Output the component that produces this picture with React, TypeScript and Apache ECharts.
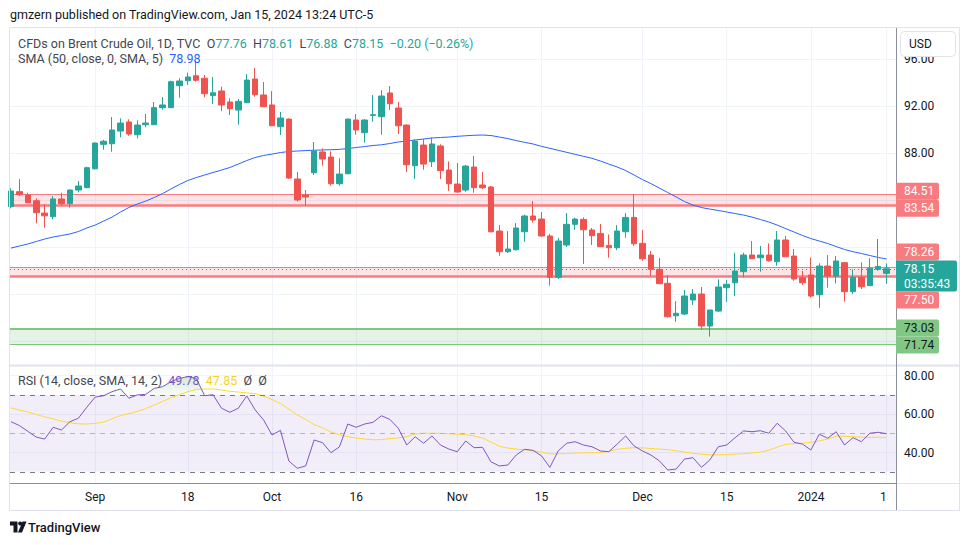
import React, { useEffect, useRef } from "react";
import * as echarts from "echarts";

// ---------- data ----------
const tickIndex = [10, 21, 31, 41, 53, 63, 75, 85, 95, 104];
const tickLabels = ["Sep", "18", "Oct", "16", "Nov", "15", "Dec", "15", "2024", "15"];
const priceTicks = [72, 76, 80, 84, 88, 92, 96];
// ticks whose labels are not hidden behind the price tags
const priceLabelTicks = [88, 92, 96];
const rsiTicks = [40, 60, 80];

const opens = [
  83.43, 84.71, 84.43, 83.94, 82.89, 82.58, 84.09, 83.69, 84.85, 85.05,
  86.66, 88.74, 88.79, 89.87, 90.64, 89.56, 90.41, 90.41, 91.86, 91.86,
  93.73, 94.15, 94.58, 94.36, 92.88, 93.28, 92.34, 91.66, 92.28, 94.3,
  92.94, 92.09, 90.24, 90.89, 85.79, 84.43, 86.32, 88.09, 87.66, 85.39,
  86.24, 90.81, 89.73, 91.2, 91.09, 93.11, 91.83, 90.38, 86.92, 88.68,
  87.26, 88.6, 86.55, 85.36, 84.85, 86.81, 85.28, 85.11, 81.36, 79.6,
  79.77, 81.3, 82.64, 82.38, 80.94, 77.42, 80.17, 81.93, 82.35, 81.45,
  81.16, 80.14, 79.94, 81.3, 82.52, 80.31, 79.32, 78.1, 76.91, 74.15,
  74.3, 75.49, 76.0, 73.28, 74.55, 76.54, 76.96, 77.9, 79.32, 79.09,
  79.32, 78.75, 80.6, 79.23, 77.39, 77.62, 75.94, 78.38, 77.53, 78.67,
  76.2, 77.42, 76.71, 78.1, 77.76,
];
const highs = [
  85.0, 85.79, 84.62, 84.14, 83.66, 84.34, 84.62, 84.9, 85.62, 86.85,
  88.9, 89.13, 91.06, 90.95, 90.87, 90.78, 91.32, 92.34, 92.77, 94.15,
  94.36, 94.83, 95.83, 94.64, 94.47, 93.65, 92.65, 92.6, 94.72, 95.23,
  94.04, 93.28, 91.49, 90.95, 86.38, 84.85, 88.94, 88.4, 88.14, 87.55,
  90.92, 91.32, 90.89, 92.94, 93.36, 93.7, 92.34, 90.44, 89.16, 89.19,
  89.34, 88.74, 87.29, 87.15, 86.98, 87.74, 86.38, 85.19, 81.87, 81.36,
  82.04, 82.75, 83.91, 82.98, 81.11, 80.77, 82.89, 82.49, 82.52, 81.62,
  81.96, 81.07, 81.87, 82.89, 84.49, 81.45, 79.66, 79.06, 77.62, 75.4,
  76.34, 76.43, 76.6, 74.66, 77.25, 77.19, 79.51, 79.51, 80.51, 80.09,
  80.31, 81.36, 80.94, 79.83, 77.96, 79.09, 78.61, 79.32, 79.23, 78.7,
  78.1, 78.7, 79.04, 80.68, 78.61,
];
const lows = [
  83.3, 84.34, 83.75, 82.02, 81.64, 82.36, 83.51, 83.35, 84.66, 85.0,
  86.6, 88.28, 88.11, 89.34, 89.47, 89.25, 90.19, 90.38, 91.69, 91.85,
  92.71, 93.79, 94.07, 92.74, 92.17, 91.57, 91.23, 90.41, 92.25, 92.79,
  91.9, 90.3, 89.53, 85.79, 83.86, 83.51, 86.13, 86.92, 85.22, 85.22,
  86.2, 89.56, 88.88, 90.67, 89.56, 91.66, 89.62, 86.38, 85.79, 86.58,
  86.81, 85.79, 84.77, 84.62, 84.71, 84.62, 84.94, 81.25, 79.26, 79.49,
  79.7, 80.45, 82.07, 80.88, 76.71, 77.28, 80.0, 81.47, 78.55, 80.17,
  80.0, 79.09, 79.74, 80.79, 80.09, 78.83, 77.53, 76.85, 74.0, 73.64,
  74.21, 75.06, 72.94, 72.37, 74.47, 75.32, 75.83, 77.42, 78.98, 77.9,
  78.75, 78.41, 79.15, 77.13, 76.77, 75.69, 74.83, 76.54, 76.91, 75.35,
  76.0, 76.43, 76.68, 77.98, 76.88,
];
const closes = [
  84.77, 84.45, 83.77, 82.92, 82.66, 84.09, 83.69, 84.85, 85.19, 86.75,
  88.85, 89.0, 89.96, 90.55, 89.62, 90.38, 90.55, 91.86, 92.09, 94.07,
  94.13, 94.47, 94.19, 93.05, 93.13, 92.09, 91.77, 92.4, 94.21, 92.96,
  91.94, 90.32, 90.98, 85.87, 84.0, 84.26, 88.17, 87.49, 85.39, 86.21,
  90.89, 89.96, 90.81, 91.26, 92.85, 92.2, 90.32, 87.0, 89.02, 87.06,
  88.77, 86.5, 85.39, 84.68, 86.89, 85.05, 85.05, 81.3, 79.6, 79.83,
  81.62, 82.64, 82.3, 80.94, 77.42, 80.51, 81.93, 82.38, 81.47, 80.96,
  80.03, 79.94, 81.36, 82.52, 80.28, 79.0, 78.1, 76.88, 74.07, 74.36,
  75.83, 76.0, 73.28, 74.64, 76.6, 76.83, 77.96, 79.32, 79.0, 79.32,
  78.83, 80.6, 79.17, 77.28, 76.96, 75.83, 78.38, 77.53, 78.81, 76.2,
  77.42, 76.62, 78.19, 78.35, 78.15,
];
const sma50 = [
  79.91, 80.09, 80.26, 80.47, 80.68, 80.85, 80.98, 81.11, 81.32, 81.62,
  81.87, 82.21, 82.55, 82.98, 83.36, 83.66, 83.91, 84.21, 84.55, 84.94,
  85.32, 85.66, 85.91, 86.13, 86.34, 86.55, 86.77, 87.06, 87.36, 87.62,
  87.79, 87.91, 88.04, 88.13, 88.17, 88.21, 88.24, 88.26, 88.28, 88.31,
  88.38, 88.47, 88.55, 88.64, 88.7, 88.81, 88.94, 89.02, 89.11, 89.19,
  89.28, 89.32, 89.36, 89.42, 89.47, 89.51, 89.53, 89.49, 89.36, 89.23,
  89.06, 88.91, 88.77, 88.57, 88.4, 88.23, 88.06, 87.89, 87.72, 87.55,
  87.32, 87.06, 86.81, 86.51, 86.13, 85.74, 85.4, 85.02, 84.64, 84.26,
  83.87, 83.57, 83.36, 83.23, 83.11, 82.98, 82.85, 82.72, 82.55, 82.34,
  82.13, 81.87, 81.57, 81.28, 80.98, 80.72, 80.51, 80.3, 80.04, 79.79,
  79.6, 79.45, 79.28, 79.11, 78.98,
];
const rsi = [
  56.0, 54.0, 51.0, 48.0, 47.0, 53.1, 51.7, 56.0, 57.8, 63.5,
  68.8, 69.5, 71.6, 73.0, 68.2, 69.9, 70.2, 73.3, 74.2, 76.8,
  78.5, 79.4, 78.5, 69.5, 70.0, 63.0, 60.9, 63.0, 69.4, 62.1,
  56.9, 49.1, 51.5, 35.6, 31.8, 33.0, 46.5, 45.1, 39.9, 42.9,
  54.8, 53.1, 54.8, 55.7, 59.1, 57.2, 52.6, 43.9, 48.2, 44.8,
  48.6, 43.9, 41.8, 40.4, 46.0, 42.5, 42.7, 35.2, 33.0, 33.5,
  38.7, 41.7, 41.1, 38.3, 32.3, 40.9, 44.8, 45.6, 43.9, 43.0,
  40.8, 40.4, 44.4, 48.6, 43.4, 40.8, 38.7, 35.7, 30.9, 31.4,
  36.6, 37.3, 32.3, 36.1, 43.0, 43.9, 47.7, 51.2, 50.8, 51.3,
  50.0, 55.2, 51.2, 45.3, 44.4, 41.3, 49.5, 47.4, 50.8, 43.9,
  47.7, 45.6, 50.0, 50.5, 49.78,
];
const rsiSma = [
  63.2, 62.0, 61.0, 59.8, 58.5, 57.5, 56.3, 55.5, 54.9, 54.8,
  55.1, 55.8, 57.5, 59.2, 60.2, 61.3, 62.8, 64.6, 66.5, 68.4,
  70.1, 71.6, 72.8, 73.0, 73.0, 72.5, 71.8, 71.4, 71.0, 70.6,
  69.3, 67.5, 65.5, 62.5, 59.5, 57.2, 54.5, 52.8, 50.6, 49.3,
  48.2, 47.5, 47.0, 46.6, 46.7, 47.2, 47.6, 48.2, 49.6, 50.0,
  50.0, 49.9, 49.7, 49.5, 49.3, 48.6, 47.5, 45.5, 43.2, 42.3,
  41.8, 41.4, 41.0, 40.2, 39.3, 39.3, 39.5, 39.7, 39.8, 39.9,
  40.0, 40.6, 41.6, 42.2, 42.5, 42.4, 42.1, 41.8, 41.5, 40.9,
  40.2, 39.6, 39.1, 38.8, 38.8, 39.0, 39.2, 39.4, 39.8, 40.2,
  41.2, 42.8, 44.2, 44.6, 44.8, 45.3, 46.0, 47.0, 48.5, 48.4,
  48.2, 48.0, 47.9, 47.9, 47.85,
];
const zoneUpper = [83.54, 84.51];
const zoneMiddle = [77.5, 78.26];
const zoneLower = [71.74, 73.03];
const countdown = "03:35:43";

// ---------- styling ----------
const UP = "#26a69a";
const DOWN = "#ef5350";
const ZRED = "#f77c80";
const ZGREEN = "#81c784";
const GRIDC = "#f0f3fa";
const TXT = "#131722";
const FONT = "Roboto, 'Noto Sans', sans-serif";

function buildOption() {
  const N = closes.length;
  const idx = Array.from({ length: N }, (_, i) => i);
  const candleData = idx.map((i) => [i, opens[i], closes[i], lows[i], highs[i]]);
  const smaData = idx.map((i) => [i, sma50[i]]);
  const rsiData = idx.map((i) => [i, rsi[i]]);
  const rsiSmaData = idx.map((i) => [i, rsiSma[i]]);
  const obData = idx.map((i) => [i, Math.max(rsi[i], 70)]);

  const last = N - 1;
  const chg = closes[last] - closes[last - 1];
  const pct = (chg / closes[last - 1]) * 100;
  const sgn = (v: number) => (v < 0 ? "\u2212" : "+") + Math.abs(v).toFixed(2);

  const zoneArea = (z: number[], color: string) => [
    { yAxis: z[0], itemStyle: { color } },
    { yAxis: z[1] },
  ];

  const xCommon = {
    type: "value",
    min: -0.12,
    max: 105.11,
    axisTick: { show: false, customValues: tickIndex },
    splitLine: { show: true, lineStyle: { color: GRIDC, width: 1 } },
  };

  return {
    animation: false,
    backgroundColor: "#ffffff",
    textStyle: { fontFamily: FONT },
    grid: [
      { left: 10, right: 74, top: 28, height: 337 },
      { left: 10, right: 74, top: 366, height: 117 },
    ],
    xAxis: [
      {
        ...xCommon,
        gridIndex: 0,
        axisLine: { show: false },
        axisLabel: { show: false, customValues: tickIndex },
      },
      {
        ...xCommon,
        gridIndex: 1,
        axisLine: { show: true, onZero: false, lineStyle: { color: "#8c909b", width: 1 } },
        axisLabel: {
          show: true,
          customValues: tickIndex,
          margin: 8,
          fontSize: 12,
          color: TXT,
          fontFamily: FONT,
          formatter: (v: number) => tickLabels[tickIndex.indexOf(Math.round(v))] ?? "",
        },
      },
    ],
    yAxis: [
      {
        type: "value",
        gridIndex: 0,
        position: "right",
        min: 69.96,
        max: 98.64,
        axisLine: { show: false },
        axisTick: { show: false, customValues: priceTicks },
        axisLabel: {
          customValues: priceLabelTicks,
          margin: 8,
          fontSize: 12,
          color: TXT,
          fontFamily: FONT,
          formatter: (v: number) => v.toFixed(2),
        },
        splitLine: { show: true, lineStyle: { color: GRIDC } },
      },
      {
        type: "value",
        gridIndex: 1,
        position: "right",
        min: 24.16,
        max: 84.94,
        axisLine: { show: false },
        axisTick: { show: false, customValues: rsiTicks },
        axisLabel: {
          customValues: rsiTicks,
          margin: 8,
          fontSize: 12,
          color: TXT,
          fontFamily: FONT,
          formatter: (v: number) => v.toFixed(2),
        },
        splitLine: { show: true, lineStyle: { color: GRIDC } },
      },
    ],
    series: [
      {
        type: "candlestick",
        xAxisIndex: 0,
        yAxisIndex: 0,
        data: candleData,
        encode: { x: 0, y: [1, 2, 3, 4] },
        barWidth: 6,
        clip: true,
        z: 5,
        itemStyle: {
          color: UP,
          color0: DOWN,
          borderColor: UP,
          borderColor0: DOWN,
          borderWidth: 1,
        },
        markArea: {
          silent: true,
          z: 1,
          data: [
            zoneArea(zoneUpper, "rgba(242,54,69,0.13)"),
            zoneArea(zoneMiddle, "rgba(242,54,69,0.13)"),
            zoneArea(zoneLower, "rgba(76,175,80,0.15)"),
          ],
        },
        markLine: {
          silent: true,
          symbol: "none",
          label: { show: false },
          z: 3,
          data: [
            { yAxis: zoneUpper[1], lineStyle: { color: ZRED, width: 1, type: "solid" } },
            { yAxis: zoneUpper[0], lineStyle: { color: ZRED, width: 2.5, type: "solid" } },
            { yAxis: zoneMiddle[1], lineStyle: { color: ZRED, width: 1, type: "solid" } },
            { yAxis: zoneMiddle[0], lineStyle: { color: ZRED, width: 2.5, type: "solid" } },
            { yAxis: zoneLower[1], lineStyle: { color: ZGREEN, width: 2, type: "solid" } },
            { yAxis: zoneLower[0], lineStyle: { color: ZGREEN, width: 1, type: "solid" } },
            { yAxis: closes[last], lineStyle: { color: UP, width: 1, type: [1, 3] } },
          ],
        },
      },
      {
        type: "line",
        xAxisIndex: 0,
        yAxisIndex: 0,
        data: smaData,
        showSymbol: false,
        symbol: "none",
        z: 4,
        lineStyle: { color: "#2962ff", width: 1 },
      },
      {
        type: "line",
        xAxisIndex: 1,
        yAxisIndex: 1,
        data: obData,
        showSymbol: false,
        symbol: "none",
        z: 2,
        lineStyle: { width: 0, opacity: 0 },
        areaStyle: {
          origin: 70,
          color: new echarts.graphic.LinearGradient(0, 0, 0, 1, [
            { offset: 0, color: "rgba(76,175,80,0.35)" },
            { offset: 1, color: "rgba(76,175,80,0.05)" },
          ]),
        },
      },
      {
        type: "line",
        xAxisIndex: 1,
        yAxisIndex: 1,
        data: rsiSmaData,
        showSymbol: false,
        symbol: "none",
        z: 4,
        lineStyle: { color: "#fdd835", width: 1 },
      },
      {
        type: "line",
        xAxisIndex: 1,
        yAxisIndex: 1,
        data: rsiData,
        showSymbol: false,
        symbol: "none",
        z: 5,
        lineStyle: { color: "#7e57c2", width: 1 },
        markArea: {
          silent: true,
          data: [[{ yAxis: 30, itemStyle: { color: "rgba(126,87,194,0.1)" } }, { yAxis: 70 }]],
        },
        markLine: {
          silent: true,
          symbol: "none",
          label: { show: false },
          data: [
            { yAxis: 70, lineStyle: { color: "#787b86", width: 1, type: [5, 5] } },
            { yAxis: 50, lineStyle: { color: "#b2b5be", width: 1, type: [5, 5] } },
            { yAxis: 30, lineStyle: { color: "#787b86", width: 1, type: [5, 5] } },
          ],
        },
      },
    ],
    graphic: {
      elements: [
        {
          id: "frame",
          type: "rect",
          silent: true,
          z: 30,
          shape: { x: 9.5, y: 27.5, width: 950, height: 483 },
          style: { fill: "none", stroke: "#e0e3eb", lineWidth: 1 },
        },
        {
          id: "sep",
          type: "line",
          silent: true,
          z: 30,
          shape: { x1: 10, y1: 365.5, x2: 959, y2: 365.5 },
          style: { stroke: "#e0e3eb", lineWidth: 2 },
        },
        {
          id: "xcover",
          type: "rect",
          silent: true,
          z: 40,
          shape: { x: 887.5, y: 484, width: 71, height: 26 },
          style: { fill: "#ffffff" },
        },
        {
          id: "xline2",
          type: "line",
          silent: true,
          z: 41,
          shape: { x1: 896, y1: 483.5, x2: 959, y2: 483.5 },
          style: { stroke: "#e0e3eb", lineWidth: 1 },
        },
        {
          id: "vaxis",
          type: "line",
          silent: true,
          z: 42,
          shape: { x1: 896.5, y1: 28, x2: 896.5, y2: 510 },
          style: { stroke: "#8c909b", lineWidth: 1 },
        },
        {
          id: "usdbox",
          type: "rect",
          silent: true,
          z: 60,
          shape: { x: 900.5, y: 31.5, width: 55, height: 25, r: 4 },
          style: { fill: "#ffffff", stroke: "#e0e3eb", lineWidth: 1 },
        },
        {
          id: "usdtxt",
          type: "text",
          silent: true,
          z: 61,
          x: 909,
          y: 44,
          style: { text: "USD", fill: TXT, font: `12px ${FONT}`, verticalAlign: "middle" },
        },
        {
          id: "header",
          type: "text",
          silent: true,
          z: 61,
          x: 10,
          y: 14,
          style: {
            text: "gmzern published on TradingView.com, Jan 15, 2024 13:24 UTC-5",
            fill: TXT,
            font: `12.5px ${FONT}`,
            verticalAlign: "middle",
          },
        },
        {
          id: "legend1",
          type: "text",
          silent: true,
          z: 61,
          x: 18,
          y: 43,
          style: {
            text:
              "{t|CFDs on Brent Crude Oil, 1D, TVC}  " +
              `{k|O}{v|${opens[last].toFixed(2)}}  ` +
              `{k|H}{v|${highs[last].toFixed(2)}}  ` +
              `{k|L}{v|${lows[last].toFixed(2)}}  ` +
              `{k|C}{v|${closes[last].toFixed(2)}}  ` +
              `{v|${sgn(chg)} (${sgn(pct)}%)}`,
            verticalAlign: "middle",
            font: `12.5px ${FONT}`,
            rich: {
              t: { fill: "#434651", font: `12.5px ${FONT}` },
              k: { fill: "#434651", font: `12.5px ${FONT}` },
              v: { fill: UP, font: `12.5px ${FONT}` },
            },
          },
        },
        {
          id: "legend2",
          type: "text",
          silent: true,
          z: 61,
          x: 18,
          y: 58,
          style: {
            text: `{t|SMA (50, close, 0, SMA, 5)}  {b|${sma50[last].toFixed(2)}}`,
            verticalAlign: "middle",
            font: `12.5px ${FONT}`,
            rich: {
              t: { fill: "#434651", font: `12.5px ${FONT}` },
              b: { fill: "#2962ff", font: `12.5px ${FONT}` },
            },
          },
        },
        {
          id: "legend3",
          type: "text",
          silent: true,
          z: 61,
          x: 18,
          y: 380,
          style: {
            text: `{t|RSI (14, close, SMA, 14, 2)}  {p|${rsi[last].toFixed(2)}}  {y|${rsiSma[last].toFixed(2)}}  {t|\u00d8  \u00d8}`,
            verticalAlign: "middle",
            font: `12.5px ${FONT}`,
            rich: {
              t: { fill: "#434651", font: `12.5px ${FONT}` },
              p: { fill: "#7e57c2", font: `12.5px ${FONT}` },
              y: { fill: "#f5d328", font: `12.5px ${FONT}` },
            },
          },
        },
        {
          id: "logoT",
          type: "polygon",
          silent: true,
          z: 61,
          shape: {
            points: [
              [10, 521.5], [17.5, 521.5], [17.5, 532.5], [13.5, 532.5], [13.5, 525.5], [10, 525.5],
            ],
          },
          style: { fill: TXT },
        },
        {
          id: "logoDot",
          type: "circle",
          silent: true,
          z: 61,
          shape: { cx: 20.2, cy: 523.5, r: 2 },
          style: { fill: TXT },
        },
        {
          id: "logoV",
          type: "polygon",
          silent: true,
          z: 61,
          shape: { points: [[22.5, 521.5], [26.5, 521.5], [22, 532.5], [18, 532.5]] },
          style: { fill: TXT },
        },
        {
          id: "logoTxt",
          type: "text",
          silent: true,
          z: 61,
          x: 28,
          y: 527,
          style: { text: "TradingView", fill: TXT, font: `500 13px ${FONT}`, verticalAlign: "middle" },
        },
      ],
    },
  };
}

type LabelDef = { v: number; text: string; bg: string; fg: string; sub?: string; fixed?: boolean };

function buildPriceLabels(chart: any) {
  const last = closes.length - 1;
  const defs: LabelDef[] = [
    { v: zoneUpper[1], text: zoneUpper[1].toFixed(2), bg: ZRED, fg: "#ffffff" },
    { v: zoneUpper[0], text: zoneUpper[0].toFixed(2), bg: ZRED, fg: "#ffffff" },
    { v: zoneMiddle[1], text: zoneMiddle[1].toFixed(2), bg: ZRED, fg: "#ffffff" },
    { v: closes[last], text: closes[last].toFixed(2), sub: countdown, bg: UP, fg: "#ffffff", fixed: true },
    { v: zoneMiddle[0], text: zoneMiddle[0].toFixed(2), bg: ZRED, fg: "#ffffff" },
    { v: zoneLower[1], text: zoneLower[1].toFixed(2), bg: ZGREEN, fg: TXT },
    { v: zoneLower[0], text: zoneLower[0].toFixed(2), bg: ZGREEN, fg: TXT },
  ];
  const items = defs
    .map((d) => {
      const y = chart.convertToPixel({ yAxisIndex: 0 }, d.v) as number;
      const h = d.sub ? 31 : 17;
      const top = d.sub ? y - 8.3 : y - h / 2;
      return { ...d, y, h, top };
    })
    .sort((a, b) => a.top - b.top);
  for (let it = 0; it < 40; it++) {
    for (let i = 0; i < items.length - 1; i++) {
      const a = items[i];
      const b = items[i + 1];
      const ov = a.top + a.h - b.top;
      if (ov > 0.01) {
        if (a.fixed) b.top += ov;
        else if (b.fixed) a.top -= ov;
        else {
          a.top -= ov / 2;
          b.top += ov / 2;
        }
      }
    }
  }
  const els: any[] = [];
  items.forEach((d, i) => {
    els.push({
      id: "pl_box_" + i,
      type: "rect",
      silent: true,
      z: 70,
      shape: { x: 896, y: d.top, width: d.sub ? 61 : 43, height: d.h, r: [0, 2, 2, 0] },
      style: { fill: d.bg },
    });
    els.push({
      id: "pl_txt_" + i,
      type: "text",
      silent: true,
      z: 71,
      x: 904,
      y: d.top + 8.5,
      style: { text: d.text, fill: d.fg, font: `12px ${FONT}`, verticalAlign: "middle" },
    });
    if (d.sub) {
      els.push({
        id: "pl_sub_" + i,
        type: "text",
        silent: true,
        z: 71,
        x: 904,
        y: d.top + 23.5,
        style: { text: d.sub, fill: d.fg, font: `12px ${FONT}`, verticalAlign: "middle" },
      });
    }
  });
  return els;
}

export default function App() {
  const ref = useRef<HTMLDivElement>(null);
  useEffect(() => {
    const el = ref.current;
    if (!el) return;
    const chart = echarts.init(el, null, { renderer: "svg" });
    chart.setOption(buildOption() as any);
    chart.setOption({ graphic: { elements: buildPriceLabels(chart) } } as any);
    return () => chart.dispose();
  }, []);
  return (
    <div
      ref={ref}
      style={{ position: "fixed", left: 0, top: 0, width: 970, height: 545, background: "#ffffff" }}
    />
  );
}
